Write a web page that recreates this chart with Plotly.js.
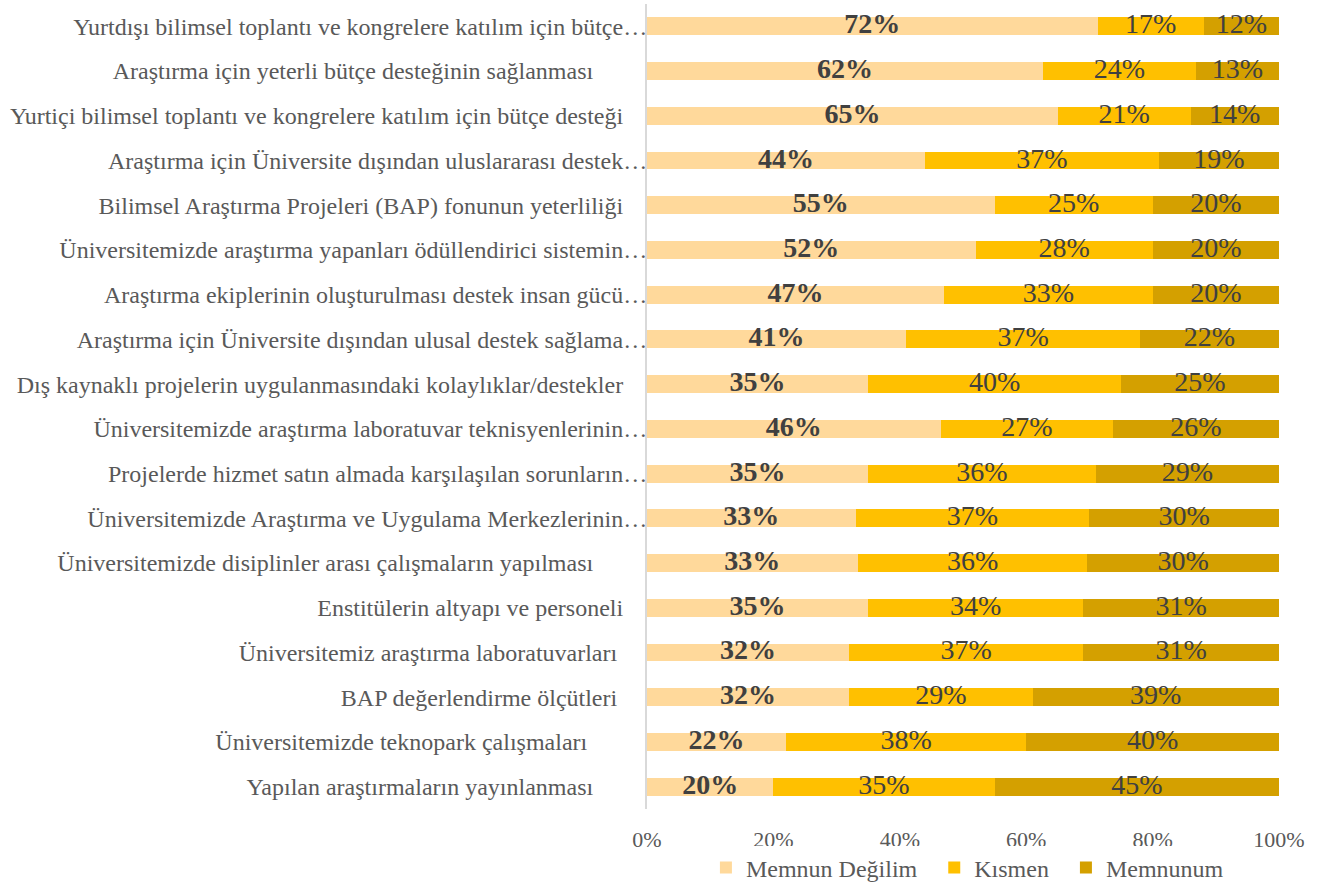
<!DOCTYPE html>
<html>
<head>
<meta charset="utf-8">
<script src="https://cdn.plot.ly/plotly-3.0.1.min.js"></script>
<style>
  html, body { margin: 0; padding: 0; background: #ffffff; }
  #chart { width: 1322px; height: 884px; }
</style>
</head>
<body>
<div id="chart"></div>
<script>
// Survey items, listed top to bottom
const categories = [
  "Yurtdışı bilimsel toplantı ve kongrelere katılım için bütçe…",
  "Araştırma için yeterli bütçe desteğinin sağlanması",
  "Yurtiçi bilimsel toplantı ve kongrelere katılım için bütçe desteği",
  "Araştırma için Üniversite dışından uluslararası destek…",
  "Bilimsel Araştırma Projeleri (BAP) fonunun yeterliliği",
  "Üniversitemizde araştırma yapanları ödüllendirici sistemin…",
  "Araştırma ekiplerinin oluşturulması destek insan gücü…",
  "Araştırma için Üniversite dışından ulusal destek sağlama…",
  "Dış kaynaklı projelerin uygulanmasındaki kolaylıklar/destekler",
  "Üniversitemizde araştırma laboratuvar teknisyenlerinin…",
  "Projelerde hizmet satın almada karşılaşılan sorunların…",
  "Üniversitemizde Araştırma ve Uygulama Merkezlerinin…",
  "Üniversitemizde disiplinler arası çalışmaların yapılması",
  "Enstitülerin altyapı ve personeli",
  "Üniversitemiz araştırma laboratuvarları",
  "BAP değerlendirme ölçütleri",
  "Üniversitemizde teknopark çalışmaları",
  "Yapılan araştırmaların yayınlanması"
];

// Response shares (%) per item
const memnunDegilim = [72, 62, 65, 44, 55, 52, 47, 41, 35, 46, 35, 33, 33, 35, 32, 32, 22, 20];
const kismen        = [17, 24, 21, 37, 25, 28, 33, 37, 40, 27, 36, 37, 36, 34, 37, 29, 38, 35];
const memnunum      = [12, 13, 14, 19, 20, 20, 20, 22, 25, 26, 29, 30, 30, 31, 31, 39, 40, 45];

const seriesNames = ["Memnun Değilim", "Kısmen", "Memnunum"];
const xTicks = [0, 20, 40, 60, 80, 100];

// trailing space count kept after some item names
const labelPad = [0, 9, 4, 0, 4, 0, 0, 0, 4, 0, 0, 0, 9, 4, 5, 5, 10, 9];
const tickText = categories.map((c, i) => c + "\u00A0".repeat(labelPad[i]));

const FONT = "Liberation Serif";
const colors = ["#FFD99B", "#FFC000", "#D4A000"];
const seriesValues = [memnunDegilim, kismen, memnunum];

// each row is drawn as a 100% stack
const totals = categories.map((_, i) => seriesValues.reduce((s, arr) => s + arr[i], 0));

// extra room between legend entries
const legendNames = seriesNames.map((n, k) => k < seriesNames.length - 1 ? n + "\u00A0\u00A0" : n);

const barTraces = seriesValues.map((vals, k) => ({
  type: "bar",
  orientation: "h",
  name: legendNames[k],
  y: categories,
  x: vals,
  marker: { color: colors[k], line: { width: 0 } },
  hovertemplate: seriesNames[k] + ": %{x:.0f}%<extra></extra>"
}));

// value labels centred on each stacked segment
const labelTraces = seriesValues.map((vals, k) => ({
  type: "scatter",
  mode: "text",
  showlegend: false,
  hoverinfo: "skip",
  cliponaxis: false,
  y: categories,
  x: vals.map((v, i) => {
    let start = 0;
    for (let j = 0; j < k; j++) start += seriesValues[j][i];
    return (start + v / 2) / totals[i] * 100;
  }),
  text: vals.map(v => v + "%"),
  textposition: "middle center",
  textfont: {
    family: FONT,
    size: 28,
    color: "#404040",
    weight: k === 0 ? "bold" : "normal"
  }
}));

const layout = {
  width: 1322,
  height: 884,
  margin: { l: 647, r: 43, t: 4, b: 75, autoexpand: false },
  paper_bgcolor: "#ffffff",
  plot_bgcolor: "#ffffff",
  barmode: "stack",
  barnorm: "percent",
  bargap: 0.6,
  font: { family: FONT, size: 24, color: "#595959" },
  xaxis: {
    range: [0, 100],
    tickvals: xTicks,
    ticktext: xTicks.map(t => t + "%"),
    showgrid: false,
    zeroline: false,
    showline: false,
    ticks: "",
    ticklabelstandoff: 15,
    tickfont: { family: FONT, size: 22, color: "#595959" },
    automargin: false,
    fixedrange: true
  },
  yaxis: {
    type: "category",
    range: [categories.length - 0.5, -0.5],
    tickvals: categories,
    ticktext: tickText,
    showline: true,
    linecolor: "#D9D9D9",
    linewidth: 2,
    showgrid: false,
    zeroline: false,
    ticks: "",
    ticklabelstandoff: -7,
    tickfont: { family: FONT, size: 24, color: "#595959" },
    automargin: false,
    fixedrange: true
  },
  showlegend: true,
  legend: {
    orientation: "h",
    x: 0.507,
    xanchor: "center",
    y: -0.0733,
    yanchor: "middle",
    font: { family: FONT, size: 24, color: "#595959" },
    traceorder: "normal",
    itemclick: false,
    itemdoubleclick: false
  }
};

Plotly.newPlot("chart", barTraces.concat(labelTraces), layout, { displayModeBar: false, staticPlot: true });
</script>
</body>
</html>
